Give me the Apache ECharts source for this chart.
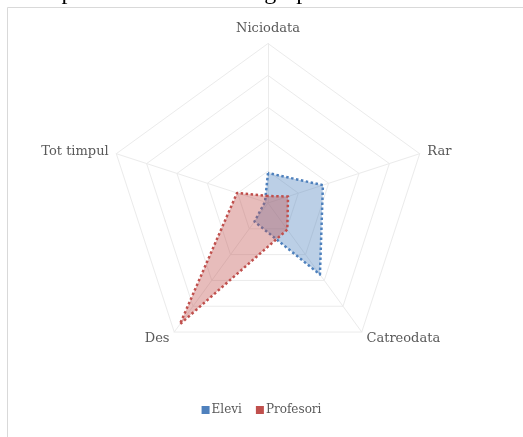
<!DOCTYPE html>
<html>
<head>
<meta charset="utf-8">
<script src="https://cdn.jsdelivr.net/npm/echarts@6/dist/echarts.min.js"></script>
<style>
html,body{margin:0;padding:0;background:#fff;}
#chart{width:523px;height:437px;}
</style>
</head>
<body>
<div id="chart"></div>
<script>
// Data
const categories = ['Niciodata', 'Rar', 'Catreodata', 'Des', 'Tot timpul'];
const seriesNames = ['Elevi', 'Profesori'];
const elevi = [9.4, 18.1, 27.7, 7.2, 1];
const profesori = [2.2, 6.6, 10.3, 47, 10.2];
const axisMax = 50;
const headerText = 'eclasa pentru care s-a decis grupul.';

// ECharts radar runs counter-clockwise; reorder so categories go clockwise
const order = [0, 4, 3, 2, 1];
const cw = arr => order.map(i => arr[i]);

const chart = echarts.init(document.getElementById('chart'));
const serif = '"DejaVu Serif", "Liberation Serif", serif';
const option = {
  backgroundColor: '#ffffff',
  animation: false,
  graphic: [
    {
      type: 'rect', z: -10, silent: true,
      shape: {x: 7.5, y: 7.5, width: 540, height: 450},
      style: {fill: '#ffffff', stroke: '#d9d9d9', lineWidth: 1}
    },
    {
      type: 'text', silent: true,
      style: {x: -3, y: 5, text: headerText, font: '24px "Liberation Serif", serif', fill: '#000', textAlign: 'left', textVerticalAlign: 'bottom'}
    }
  ],
  color: ['#4F81BD', '#C0504D'],
  legend: {
    data: seriesNames.map(n => ({name: n, icon: 'rect'})),
    bottom: 16,
    left: 'center',
    itemWidth: 8,
    itemHeight: 8,
    itemGap: 14,
    textStyle: {fontFamily: serif, fontSize: 12, color: '#595959', padding: [0, 0, 0, -3]}
  },
  radar: {
    center: [268, 203],
    radius: 159.5,
    startAngle: 90,
    splitNumber: 5,
    shape: 'polygon',
    indicator: cw(categories).map(c => ({name: c, min: 0, max: axisMax})),
    axisName: {fontFamily: serif, fontSize: 13, color: '#595959'},
    nameGap: 8,
    splitArea: {show: false},
    splitLine: {lineStyle: {color: '#ebebeb', width: 1}},
    axisLine: {lineStyle: {color: '#ebebeb', width: 1}},
    axisTick: {show: false},
    axisLabel: {show: false}
  },
  series: [{
    type: 'radar',
    symbol: 'none',
    data: [
      {
        name: seriesNames[0], value: cw(elevi),
        lineStyle: {color: '#4F81BD', width: 2.5, type: [2.5, 2.5]},
        areaStyle: {color: 'rgba(79,129,189,0.55)'},
        itemStyle: {color: '#4F81BD'}
      },
      {
        name: seriesNames[1], value: cw(profesori),
        lineStyle: {color: '#C0504D', width: 2.5, type: [2.5, 2.5]},
        areaStyle: {color: 'rgba(192,80,77,0.55)'},
        itemStyle: {color: '#C0504D'}
      }
    ]
  }]
};
chart.setOption(option);
</script>
</body>
</html>
